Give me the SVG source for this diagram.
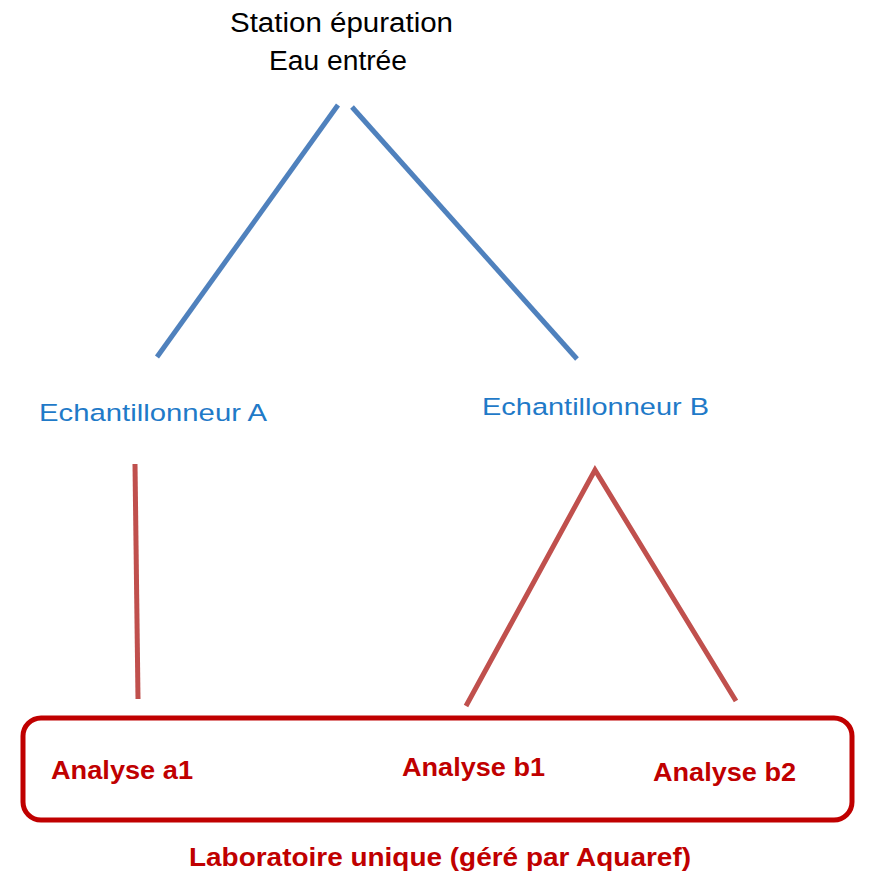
<svg xmlns="http://www.w3.org/2000/svg" width="869" height="874" viewBox="0 0 869 874">
<style>
text{font-family:"Liberation Sans","Open Sans",sans-serif}
.top{font-size:27px;fill:#000}
.ech{font-size:24.5px;fill:#1F7AC8}
.ana{font-size:25px;font-weight:bold;fill:#C00000}
.lab{font-size:26px;font-weight:bold;fill:#C00000}
.blue{stroke:#4F81BD;stroke-width:5;fill:none}
.red{stroke:#C0504D;stroke-width:5;fill:none}
</style>
<rect width="869" height="874" fill="#fff"/>
<g id="connectors">
<line class="blue" x1="338" y1="105" x2="157" y2="357"/>
<line class="blue" x1="352" y1="107" x2="577" y2="359"/>
<line class="red" x1="135" y1="464" x2="138" y2="699"/>
<polyline class="red" points="466,706 595,470 736,701"/>
</g>
<g id="station">
<text class="top" x="230" y="32" textLength="223" lengthAdjust="spacingAndGlyphs">Station épuration</text>
<text class="top" x="269" y="70" textLength="138" lengthAdjust="spacingAndGlyphs">Eau entrée</text>
</g>
<g id="echA"><text class="ech" x="39" y="421" textLength="228" lengthAdjust="spacingAndGlyphs">Echantillonneur A</text></g>
<g id="echB"><text class="ech" x="482" y="415" textLength="227" lengthAdjust="spacingAndGlyphs">Echantillonneur B</text></g>
<g id="labo">
<rect x="23" y="718" width="829" height="102" rx="18" fill="none" stroke="#C00000" stroke-width="5"/>
<text class="lab" x="189" y="866" textLength="502" lengthAdjust="spacingAndGlyphs">Laboratoire unique (géré par Aquaref)</text>
</g>
<g id="a1"><text class="ana" x="51" y="779" textLength="142" lengthAdjust="spacingAndGlyphs">Analyse a1</text></g>
<g id="b1"><text class="ana" x="402" y="776" textLength="143" lengthAdjust="spacingAndGlyphs">Analyse b1</text></g>
<g id="b2"><text class="ana" x="653" y="781" textLength="143" lengthAdjust="spacingAndGlyphs">Analyse b2</text></g>
</svg>
